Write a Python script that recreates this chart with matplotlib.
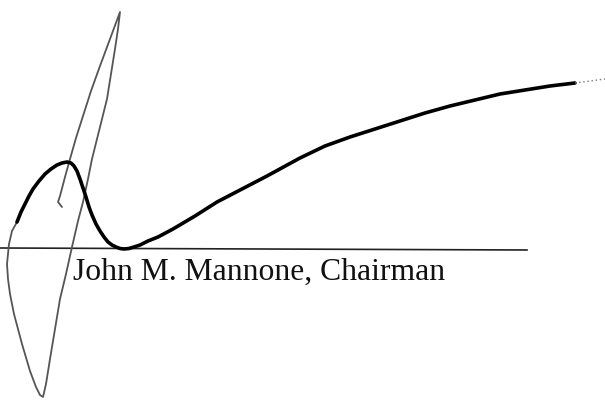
import matplotlib
matplotlib.use("Agg")
import matplotlib.pyplot as plt

# signature strokes (pixel coords, y down)
thin_x = [62, 58, 60, 65, 70, 76, 83, 91, 100, 110, 120, 118, 115, 111, 107, 102, 97, 92, 88, 83, 78, 72, 66,
          60, 55, 50, 46, 43, 40, 36, 30, 22, 14, 10, 8, 7, 9, 12, 17]
thin_y = [208, 203, 197, 178, 160, 139, 117, 92, 67, 40, 13, 30, 50, 75, 100, 120, 140, 160, 180, 203, 222, 248, 275,
          300, 330, 360, 385, 398, 396, 388, 372, 345, 315, 295, 280, 265, 245, 232, 223]

thick_x = [17, 21, 25, 29, 33, 39, 45, 51, 57, 62, 67, 71, 74, 77, 80, 83, 86, 89, 92, 96, 100, 104, 108, 112, 116,
           120, 124, 129, 134, 140, 148, 158, 173, 195, 217, 242, 267, 300, 325, 350, 375, 400, 425, 450, 475, 500,
           525, 550, 575]
thick_y = [223, 213, 205, 197, 190, 182, 175, 170, 166, 164, 163, 164, 167, 172, 180, 189, 198, 208, 216, 225, 232, 238,
           243, 246, 248, 249.5, 250, 249.5, 248, 246, 242, 238, 230, 217, 203, 190, 177, 159, 147, 138, 130, 122,
           114, 107, 101, 95, 91, 87, 84]

tail_x = [575, 590, 605]
tail_y = [84, 82, 80]

line_x = [0, 527]
line_y = [249, 251]

caption = "John M. Mannone, Chairman"

fig = plt.figure(figsize=(6.05, 4.02), dpi=100)
ax = fig.add_axes([0, 0, 1, 1])
ax.set_xlim(0, 605)
ax.set_ylim(402, 0)
ax.axis('off')

ax.plot(line_x, line_y, color='#222222', lw=1.2)
ax.plot(thin_x, thin_y, color='#555555', lw=1.3, solid_capstyle='round', solid_joinstyle='round')
ax.plot(thick_x, thick_y, color='black', lw=2.6, solid_capstyle='round', solid_joinstyle='round')
ax.plot(tail_x, tail_y, color='#777777', lw=1.0, ls=(0, (1, 2)))

ax.text(73, 280, caption, fontsize=22.8, family='Liberation Serif', color='#111111', va='baseline', ha='left')

fig.savefig('out.png', dpi=100)
